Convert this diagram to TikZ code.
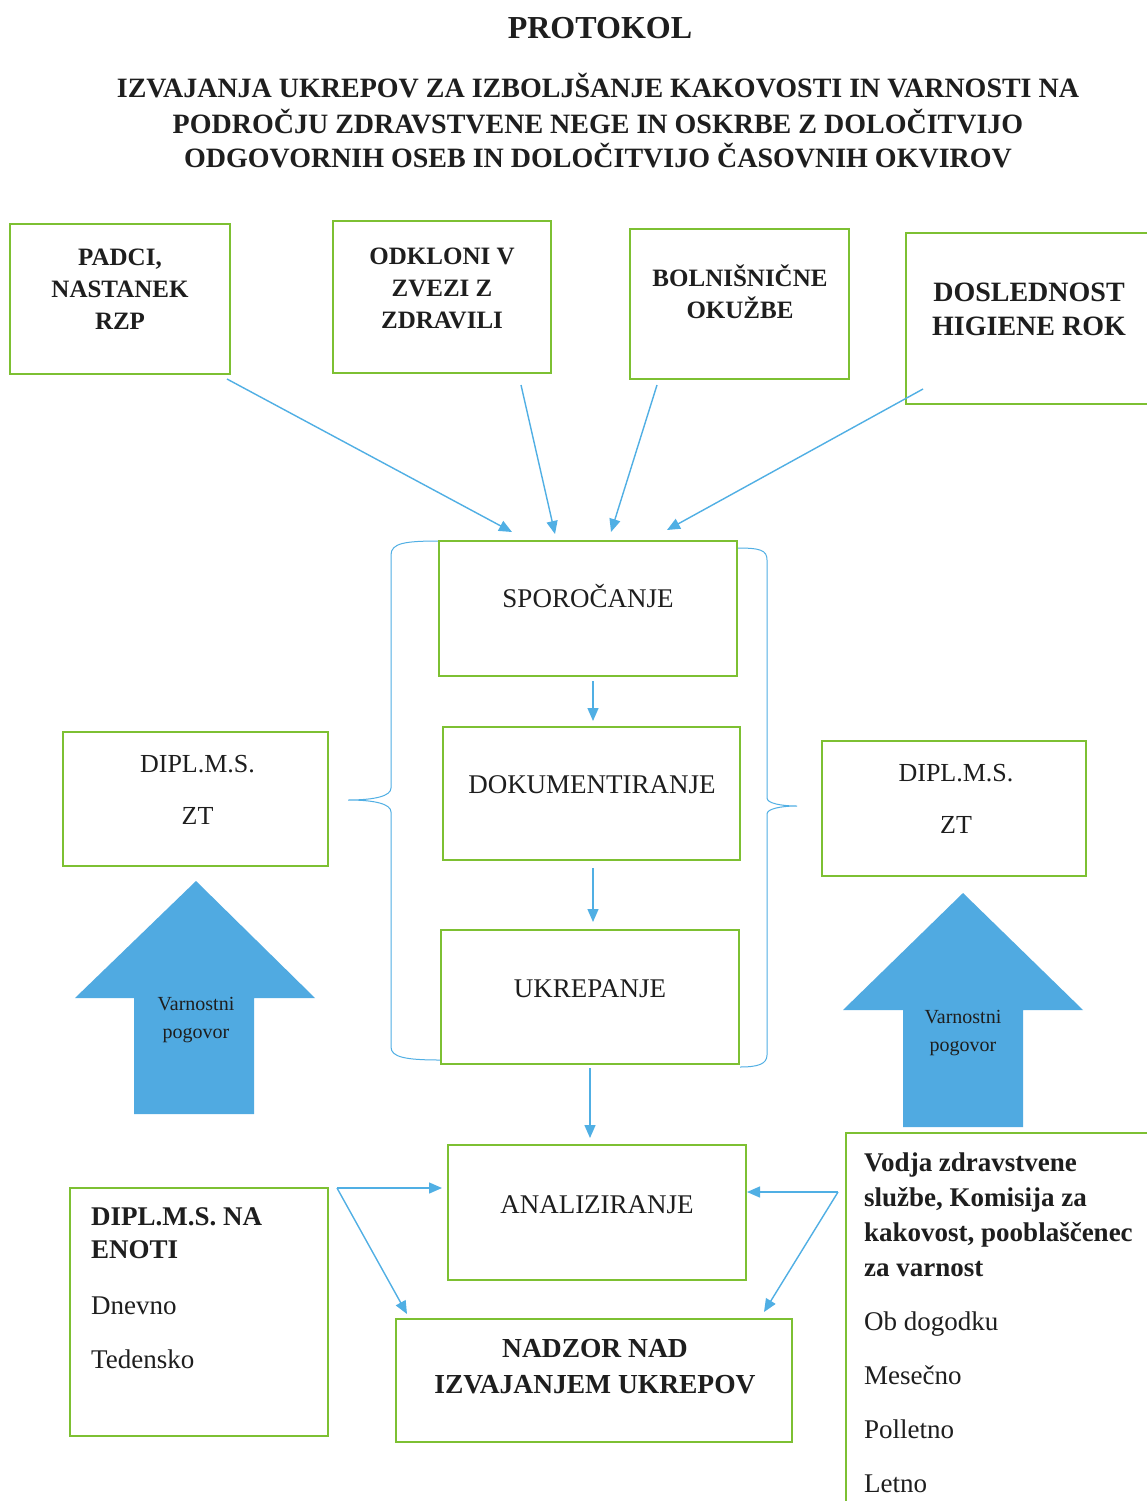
\documentclass[tikz,border=0pt]{standalone}
\usepackage{fontspec}
\setmainfont{Liberation Serif}
\usetikzlibrary{arrows.meta,calc}
\definecolor{boxgreen}{RGB}{125,192,50}
\definecolor{arrblue}{RGB}{80,175,228}
\definecolor{bigblue}{RGB}{80,170,225}
\definecolor{ink}{RGB}{30,30,30}
\newcommand\myfs[2]{\fontsize{#1}{#2}\selectfont}
\begin{document}
\begin{tikzpicture}[x=1pt,y=-1pt,
 tbox/.style={draw=boxgreen, line width=2pt, rectangle, inner sep=0pt},
 txt/.style={inner sep=0pt, anchor=north, align=center, text=ink},
 arr/.style={draw=arrblue, line width=1.4pt, -{Triangle[length=13pt,width=11pt]}},
 brc/.style={draw=arrblue, line width=1pt},
]
\clip (0,0) rectangle (1147,1501);
\fill[white] (0,0) rectangle (1147,1501);

% title
\node[inner sep=0pt, anchor=base, text=ink, font=\myfs{32}{38}\bfseries] (title) at (600,39) {PROTOKOL};
\node[txt, font=\myfs{28}{34}\bfseries] (subtitle) at (598,73) {\strut IZVAJANJA UKREPOV ZA IZBOLJŠANJE KAKOVOSTI IN VARNOSTI NA\\PODROČJU ZDRAVSTVENE NEGE IN OSKRBE Z DOLOČITVIJO\\ODGOVORNIH OSEB IN DOLOČITVIJO ČASOVNIH OKVIROV};

% top boxes
\node[tbox, minimum width=220, minimum height=150] (b1) at (120,299) {};
\node[txt, font=\myfs{25}{32}\bfseries] (t1) at (120,242.6) {\strut PADCI,\\NASTANEK\\RZP};
\node[tbox, minimum width=218, minimum height=152] (b2) at (442,297) {};
\node[txt, font=\myfs{25}{32}\bfseries] (t2) at (442,241.6) {\strut ODKLONI V\\ZVEZI Z\\ZDRAVILI};
\node[tbox, minimum width=219, minimum height=150] (b3) at (739.5,304) {};
\node[txt, font=\myfs{25}{32}\bfseries] (t3) at (740,263.6) {\strut BOLNIŠNIČNE\\OKUŽBE};
\node[tbox, minimum width=260, minimum height=171] (b4) at (1036,318.5) {};
\node[txt, font=\myfs{28}{34}\bfseries] (t4) at (1029,277) {\strut DOSLEDNOST\\HIGIENE ROK};

% braces
\draw[brc] (440,541) .. controls (405,541) and (391,543) .. (391,555) -- (391,788)
  .. controls (391,796) and (375,800) .. (348,800) .. controls (375,800) and (391,804) .. (391,812)
  -- (391,1047) .. controls (391,1057) and (405,1060) .. (440,1060);
\draw[brc] (737,548) .. controls (760,548) and (767,550) .. (767,560) -- (767,798)
  .. controls (767,803) and (780,806) .. (797,806) .. controls (780,806) and (767,809) .. (767,814)
  -- (767,1055) .. controls (767,1064) and (758,1067) .. (740,1067);

% central column
\node[tbox, minimum width=298, minimum height=135] (spor) at (588,608.5) {};
\node[inner sep=0pt, anchor=base, text=ink, font=\myfs{27}{32}] (tspor) at (588,607) {SPOROČANJE};
\node[tbox, minimum width=297, minimum height=133] (dok) at (591.5,793.5) {};
\node[inner sep=0pt, anchor=base, text=ink, font=\myfs{27}{32}] (tdok) at (592,793) {DOKUMENTIRANJE};
\node[tbox, minimum width=298, minimum height=134] (ukr) at (590,997) {};
\node[inner sep=0pt, anchor=base, text=ink, font=\myfs{27}{32}] (tukr) at (590,997) {UKREPANJE};
\node[tbox, minimum width=298, minimum height=135] (anal) at (597,1212.5) {};
\node[inner sep=0pt, anchor=base, text=ink, font=\myfs{27}{32}] (tanal) at (597,1213) {ANALIZIRANJE};
\node[tbox, minimum width=396, minimum height=123] (nadzor) at (594,1380.5) {};
\node[txt, font=\myfs{27.5}{36}\bfseries] (tnadzor) at (595,1332) {\strut NADZOR NAD\\IZVAJANJEM UKREPOV};

% side boxes
\node[tbox, minimum width=265, minimum height=134] (dl) at (195.5,799) {};
\node[txt, font=\myfs{26}{52}] (tdl) at (197.5,735.6) {\strut DIPL.M.S.\\ZT};
\node[tbox, minimum width=264, minimum height=135] (dr) at (954,808.5) {};
\node[txt, font=\myfs{26}{52}] (tdr) at (956,744.6) {\strut DIPL.M.S.\\ZT};

% big arrows
\fill[bigblue] (196,881) -- (315,998) -- (254,998) -- (254,1114) -- (134,1114) -- (134,998) -- (75,998) -- cycle;
\node[txt, font=\myfs{20}{28}] (vl) at (196,991) {\strut Varnostni\\pogovor};
\fill[bigblue] (963,893) -- (1083,1010) -- (1023,1010) -- (1023,1127) -- (903,1127) -- (903,1010) -- (843,1010) -- cycle;
\node[txt, font=\myfs{20}{28}] (vr) at (963,1003.6) {\strut Varnostni\\pogovor};

% bottom boxes
\node[tbox, minimum width=258, minimum height=248] (enoti) at (199,1312) {};
\node[txt, anchor=north west, align=left, font=\myfs{27}{33}] (tenoti) at (91,1202) {\strut\bfseries DIPL.M.S. NA\\\bfseries ENOTI\\[23.5pt]Dnevno\\[21pt]Tedensko};
\node[tbox, minimum width=314, minimum height=387] (vodja) at (1003,1326.5) {};
\node[txt, anchor=north west, align=left, font=\myfs{27}{35}] (tvodja) at (864,1146.5) {\strut\bfseries Vodja zdravstvene\\\bfseries službe, Komisija za\\\bfseries kakovost, pooblaščenec\\\bfseries za varnost\\[19pt]Ob dogodku\\[19pt]Mesečno\\[19pt]Polletno\\[19pt]Letno};

% connectors
\draw[arr] ([shift={(-4,4)}]b1.south east) -- ([shift={(-76,-8)}]spor.north);
\draw[arr] ([shift={(79,11)}]b2.south) -- ([shift={(-33,-6)}]spor.north);
\draw[arr] ([shift={(-82.5,5)}]b3.south) -- ([shift={(23,-8)}]spor.north);
\draw[arr] ([shift={(18,-16)}]b4.south west) -- ([shift={(79,-10)}]spor.north);
\draw[arr] ([shift={(5,4)}]spor.south) -- ([shift={(1.5,-5)}]dok.north);
\draw[arr] ([shift={(1.5,7)}]dok.south) -- ([shift={(3,-7)}]ukr.north);
\draw[arr] ([shift={(0,3)}]ukr.south) -- ([shift={(-7,-6)}]anal.north);
\coordinate (jl) at (337,1188);
\coordinate (jr) at (838,1192);
\draw[arr] (jl) -- ([shift={(-5,-24.5)}]anal.west);
\draw[arr] (jl) -- ([shift={(12,-4)}]nadzor.north west);
\draw[arr] (jr) -- ([shift={(0,-20.5)}]anal.east);
\draw[arr] (jr) -- ([shift={(-29,-6)}]nadzor.north east);
\end{tikzpicture}
\end{document}
